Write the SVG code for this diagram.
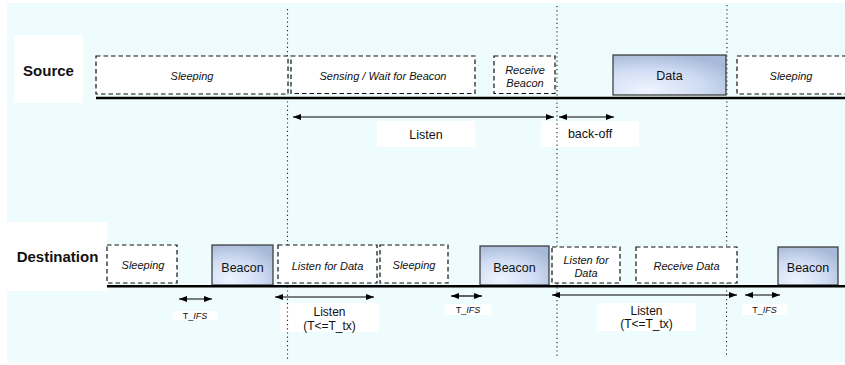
<svg xmlns="http://www.w3.org/2000/svg" width="845" height="365" viewBox="0 0 845 365">
<style>
text{font-family:"Liberation Sans",Arial,Helvetica,sans-serif;fill:#111;text-anchor:middle}
.lbl{font-size:15px;font-weight:bold}
.it{font-size:11px;font-style:italic}
.reg{font-size:12.5px}
.lt{font-size:12px}
.sm{font-size:9px}
.dash{fill:#fff;stroke:#111;stroke-width:1.2;stroke-dasharray:4.5 3}
.solid{fill:url(#bg);stroke:#333;stroke-width:1.2}
.wb{fill:#fff;stroke:none}
.base{stroke:#000;stroke-width:2.6;fill:none}
.dot{stroke:#222;stroke-width:1.1;stroke-dasharray:1.2 3;fill:none}
.arr{stroke:#000;stroke-width:1.2;fill:none;marker-start:url(#ah);marker-end:url(#ah)}
</style>
<defs>
<radialGradient id="bg" cx="0.3" cy="0.85" r="0.9">
<stop offset="0" stop-color="#eef4ff"/>
<stop offset="0.55" stop-color="#cfdcf3"/>
<stop offset="1" stop-color="#a7b9d8"/>
</radialGradient>
<marker id="ah" viewBox="0 0 8 6" refX="8" refY="3" markerWidth="8" markerHeight="6" markerUnits="userSpaceOnUse" orient="auto-start-reverse">
<path d="M0,0 L8,3 L0,6 z" fill="#000"/>
</marker>
</defs>
<rect x="7" y="3" width="838" height="359" fill="#effcfd"/>

<g id="source-label"><rect class="wb" x="14" y="35" width="69" height="68"/><text class="lbl" x="48.5" y="76">Source</text></g>
<g id="destination-label"><rect class="wb" x="7" y="222" width="100" height="69"/><text class="lbl" x="57.5" y="262">Destination</text></g>

<g id="lbl-listen-top"><rect class="wb" x="377" y="121" width="98" height="26"/><text class="reg" x="426" y="139">Listen</text></g>
<g id="lbl-backoff"><rect class="wb" x="541" y="121" width="98" height="26"/><text class="reg" x="590" y="138">back-off</text></g>
<g id="lbl-tifs1"><rect class="wb" x="173" y="311" width="45" height="9"/><text class="sm" x="195" y="319">T_<tspan font-style="italic">IFS</tspan></text></g>
<g id="lbl-listen1"><rect class="wb" x="280" y="303" width="99" height="29"/><text class="lt" x="329.5" y="316">Listen</text><text class="lt" x="329.5" y="330">(T&lt;=T_tx)</text></g>
<g id="lbl-tifs2"><rect class="wb" x="445" y="304" width="46" height="11"/><text class="sm" x="468" y="313">T_<tspan font-style="italic">IFS</tspan></text></g>
<g id="lbl-listen2"><rect class="wb" x="597" y="303" width="99" height="28"/><text class="lt" x="646.5" y="315">Listen</text><text class="lt" x="646.5" y="328">(T&lt;=T_tx)</text></g>
<g id="lbl-tifs3"><rect class="wb" x="742" y="304" width="45" height="11"/><text class="sm" x="764.5" y="313">T_<tspan font-style="italic">IFS</tspan></text></g>

<g id="connectors">
<line class="dot" x1="287.5" y1="9" x2="287.5" y2="359"/>
<line class="dot" x1="557" y1="6" x2="557" y2="357"/>
<line class="dot" x1="727" y1="5" x2="726.5" y2="356"/>
<line class="arr" x1="293" y1="117" x2="554" y2="117"/>
<line class="arr" x1="559" y1="117" x2="614" y2="117"/>
<line class="arr" x1="179" y1="299" x2="212" y2="299"/>
<line class="arr" x1="275" y1="297" x2="374" y2="297"/>
<line class="arr" x1="451" y1="296" x2="482" y2="296"/>
<line class="arr" x1="552" y1="295" x2="737" y2="295"/>
<line class="arr" x1="745" y1="295" x2="780" y2="295"/>
</g>

<g id="src-sleeping1"><rect class="dash" x="96" y="56" width="192" height="38"/><text class="it" x="192" y="80">Sleeping</text></g>
<g id="src-sensing"><rect class="dash" x="291" y="56" width="184" height="37.5"/><text class="it" x="383" y="80">Sensing / Wait for Beacon</text></g>
<g id="src-receive-beacon"><rect class="dash" x="494" y="56" width="61" height="37.5"/><text class="it" x="525" y="74">Receive</text><text class="it" x="525" y="87">Beacon</text></g>
<g id="src-data"><rect class="solid" x="613" y="55" width="113" height="40"/><text class="reg" x="669.5" y="80">Data</text></g>
<g id="src-sleeping2"><rect class="dash" x="737" y="56" width="112" height="38"/><text class="it" x="791" y="80">Sleeping</text></g>

<g id="dst-sleeping1"><rect class="dash" x="107" y="245" width="70" height="38"/><text class="it" x="143" y="269">Sleeping</text></g>
<g id="dst-beacon1"><rect class="solid" x="212" y="245" width="61" height="40"/><text class="reg" x="242.5" y="272">Beacon</text></g>
<g id="dst-listen-data1"><rect class="dash" x="278" y="245" width="99" height="38"/><text class="it" x="327.5" y="270">Listen for Data</text></g>
<g id="dst-sleeping2"><rect class="dash" x="380" y="245" width="68" height="38"/><text class="it" x="414" y="269">Sleeping</text></g>
<g id="dst-beacon2"><rect class="solid" x="480" y="246" width="69" height="39"/><text class="reg" x="514.5" y="272">Beacon</text></g>
<g id="dst-listen-data2"><rect class="dash" x="552" y="247" width="68" height="36"/><text class="it" x="586" y="264">Listen for</text><text class="it" x="586" y="277">Data</text></g>
<g id="dst-receive-data"><rect class="dash" x="636" y="247" width="101" height="36"/><text class="it" x="686.5" y="270">Receive Data</text></g>
<g id="dst-beacon3"><rect class="solid" x="778" y="247" width="60" height="38"/><text class="reg" x="808" y="272">Beacon</text></g>

<g id="timeline">
<line class="base" x1="96" y1="98" x2="845" y2="98"/>
<line class="base" x1="107" y1="286.3" x2="845" y2="286.3"/>
</g>
</svg>
